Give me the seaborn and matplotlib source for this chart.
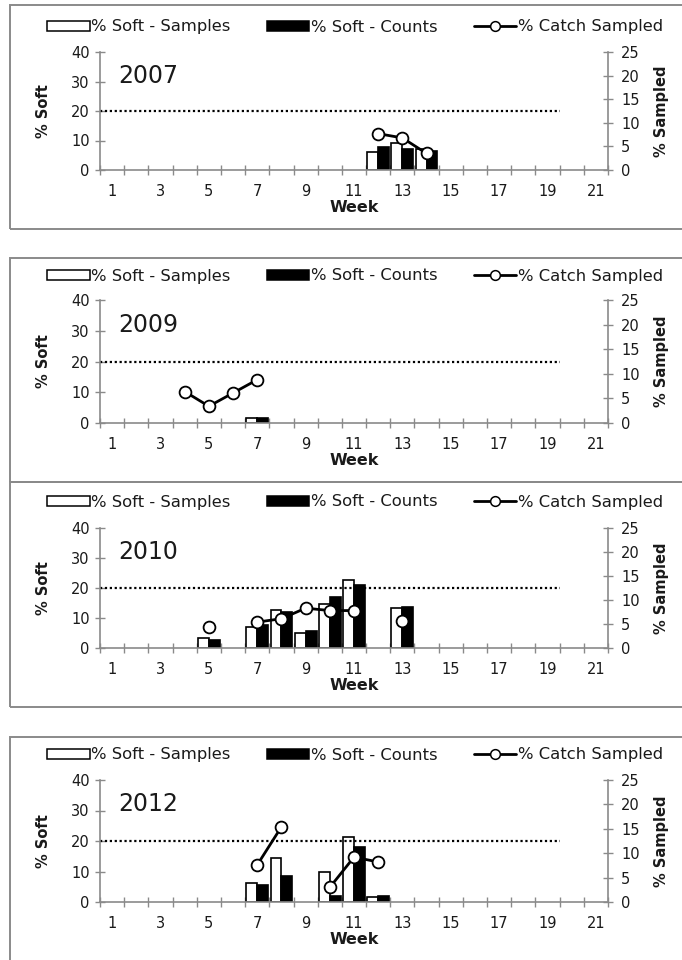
import numpy as np
import pandas as pd
import seaborn as sns
import matplotlib.pyplot as plt
from matplotlib.patches import Rectangle, Patch
from matplotlib.lines import Line2D

# values
weeks = list(range(1, 22))
week_labels = [str(w) for w in range(1, 22, 2)]

bar_weeks_2007 = [12, 13, 14]
soft_samples_2007 = [6.1, 9.2, 7.0]
soft_counts_2007 = [7.8, 7.1, 6.6]
line_weeks_2007 = [12, 13, 14]
catch_sampled_2007 = [7.7, 6.8, 3.5]

bar_weeks_2009 = [7]
soft_samples_2009 = [1.5]
soft_counts_2009 = [1.5]
line_weeks_2009 = [4, 5, 6, 7]
catch_sampled_2009 = [6.4, 3.4, 6.1, 8.8]

bar_weeks_2010 = [5, 7, 8, 9, 10, 11, 13]
soft_samples_2010 = [3.4, 6.9, 12.8, 5.0, 14.8, 22.7, 13.2]
soft_counts_2010 = [2.6, 7.6, 12.1, 5.8, 17.0, 20.9, 13.6]
line_weeks_2010 = [5, 7, 8, 9, 10, 11, 13]
catch_sampled_2010 = [4.4, 5.4, 6.1, 8.3, 7.8, 7.8, 5.6]

bar_weeks_2012 = [7, 8, 10, 11, 12]
soft_samples_2012 = [6.2, 14.4, 9.8, 21.2, 1.8]
soft_counts_2012 = [5.6, 8.5, 2.0, 18.1, 2.0]
line_weeks_2012 = [7, 8, 10, 11, 12]
catch_sampled_2012 = [7.6, 15.4, 3.0, 9.2, 8.2]

soft_target = 20

sns.set_style('ticks')
plt.rcParams['font.family'] = ['DejaVu Sans']
plt.rcParams['text.color'] = '#1a1a1a'
plt.rcParams['axes.labelcolor'] = '#1a1a1a'
plt.rcParams['xtick.color'] = '#1a1a1a'
plt.rcParams['ytick.color'] = '#1a1a1a'

W, H = 682, 960
fig = plt.figure(figsize=(W / 100, H / 100), dpi=100)
fig.patch.set_facecolor('white')

GREY = '#8a8a8a'


def px_rect(left, top, right, bottom):
    return [left / W, 1 - bottom / H, (right - left) / W, (bottom - top) / H]


def draw_panel(box, axes_box, legend_y, year, bar_weeks, samples, counts, line_weeks, sampled):
    l, t, r, b = box
    fig.add_artist(Rectangle((l / W, 1 - b / H), (r - l) / W, (b - t) / H,
                             transform=fig.transFigure, fill=False,
                             edgecolor=GREY, lw=1.4))

    ax = fig.add_axes(px_rect(*axes_box))
    n = len(bar_weeks)
    df = pd.DataFrame({
        'Week': bar_weeks + bar_weeks,
        'Value': samples + counts,
        'Series': ['% Soft - Samples'] * n + ['% Soft - Counts'] * n,
    })
    sns.barplot(data=df, x='Week', y='Value', hue='Series', native_scale=True,
                palette=['white', 'black'], edgecolor='black', linewidth=1.2,
                width=0.9, saturation=1, errorbar=None, legend=False, ax=ax)
    ax.hlines(soft_target, 0.5, 19.5, colors='black', linestyles=(0, (1, 1.2)), lw=1.6)

    ax.set_xlim(0.5, 21.5)
    ax.set_ylim(0, 40)
    ax.set_yticks([0, 10, 20, 30, 40])
    ax.set_xticks(np.arange(0.5, 22, 1))
    ax.set_xticklabels([])
    ax.set_xticks(range(1, 22, 2), labels=week_labels, minor=True)
    ax.tick_params(axis='x', which='major', direction='inout', length=7, width=1, color=GREY)
    ax.tick_params(axis='x', which='minor', length=0, labelsize=10.5, pad=10)
    ax.tick_params(axis='y', direction='inout', length=7, width=1, color=GREY, labelsize=10.5, pad=4)
    for side in ['top', 'right']:
        ax.spines[side].set_visible(False)
    for side in ['left', 'bottom']:
        ax.spines[side].set_color(GREY)
        ax.spines[side].set_linewidth(1.2)
    ax.set_xlabel('Week', fontweight='bold', fontsize=11.5, labelpad=1)
    ax.set_ylabel('% Soft', fontweight='bold', fontsize=10.5, labelpad=14)
    ax.text(0.035, 0.8, year, transform=ax.transAxes, fontsize=17, va='center', ha='left')

    ax2 = ax.twinx()
    s = pd.Series(sampled, index=line_weeks).reindex(weeks)
    ax2.plot(s.index, s.values, color='black', lw=2, marker='o', ms=8.5,
             mfc='white', mec='black', mew=1.3, zorder=5)
    ax2.set_ylim(0, 25)
    ax2.set_yticks([0, 5, 10, 15, 20, 25])
    ax2.tick_params(axis='y', direction='inout', length=7, width=1, color=GREY, labelsize=10.5, pad=6)
    for side in ['top', 'left', 'bottom']:
        ax2.spines[side].set_visible(False)
    ax2.spines['right'].set_color(GREY)
    ax2.spines['right'].set_linewidth(1.2)
    ax2.set_ylabel('% Sampled', fontweight='bold', fontsize=10.5, labelpad=10)

    handles = [
        Patch(facecolor='white', edgecolor='black', lw=1.1, label='% Soft - Samples'),
        Patch(facecolor='black', edgecolor='black', lw=1.1, label='% Soft - Counts'),
        Line2D([0], [0], color='black', lw=2, marker='o', ms=7, mfc='white',
               mec='black', mew=1.1, label='% Catch Sampled'),
    ]
    fig.legend(handles=handles, loc='center', bbox_to_anchor=(355 / W, 1 - legend_y / H),
               ncol=3, frameon=False, fontsize=11.8, handlelength=2.6, handleheight=0.55,
               handletextpad=0.1, columnspacing=2.2, borderaxespad=0)


draw_panel((10, 5, 700, 229), (100, 52, 608, 170), 27, '2007',
           bar_weeks_2007, soft_samples_2007, soft_counts_2007, line_weeks_2007, catch_sampled_2007)
draw_panel((10, 258, 700, 482), (100, 300, 608, 423), 276, '2009',
           bar_weeks_2009, soft_samples_2009, soft_counts_2009, line_weeks_2009, catch_sampled_2009)
draw_panel((10, 482, 700, 707), (100, 528, 608, 648), 502, '2010',
           bar_weeks_2010, soft_samples_2010, soft_counts_2010, line_weeks_2010, catch_sampled_2010)
draw_panel((10, 737, 700, 980), (100, 780, 608, 902), 755, '2012',
           bar_weeks_2012, soft_samples_2012, soft_counts_2012, line_weeks_2012, catch_sampled_2012)

fig.savefig('out.png', dpi=100)
